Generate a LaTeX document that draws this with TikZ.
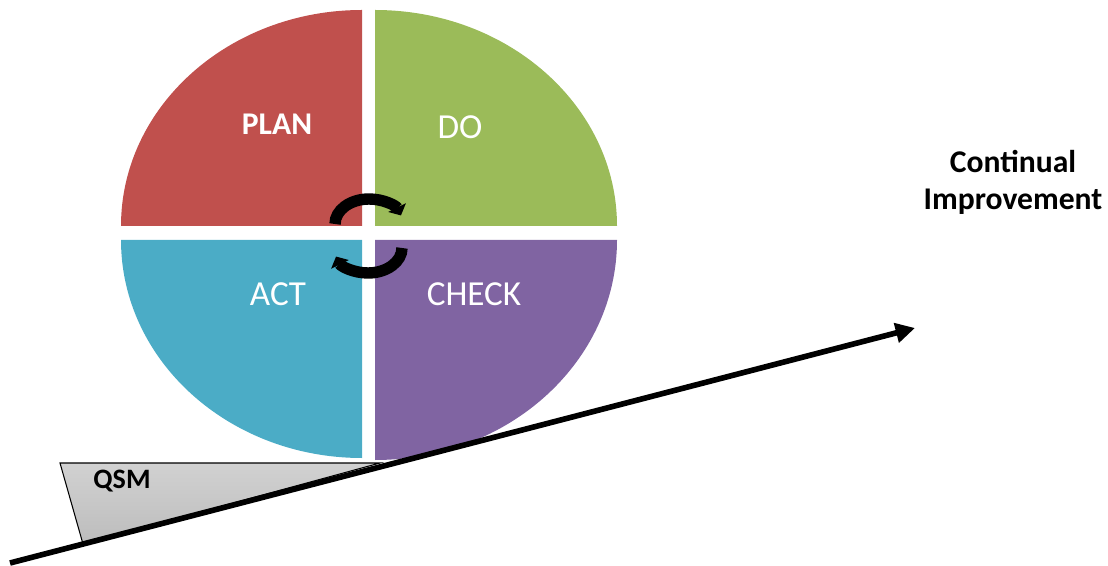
\documentclass[tikz,border=0pt]{standalone}
\usepackage{fontspec}
\setmainfont{Carlito}
\usetikzlibrary{arrows.meta}
\definecolor{planred}{HTML}{C0504D}
\definecolor{dogreen}{HTML}{9BBB59}
\definecolor{actblue}{HTML}{4BACC6}
\definecolor{checkviolet}{HTML}{8064A2}
\begin{document}
\begin{tikzpicture}[x=0.02cm,y=0.02cm,
    lbl/.style={text=white,anchor=base,font=\fontsize{20}{24}\selectfont},
    turn/.style={line width=6.5pt,-{Triangle[length=5pt,width=11pt]}}]
    \useasboundingbox (0,0) rectangle (1108,565);
    \fill[planred] (362,339) -- (121,339) arc[start angle=180,end angle=90,x radius=241,y radius=216] -- cycle;
    \fill[dogreen] (375,339) -- (375,555) arc[start angle=90,end angle=0,x radius=242,y radius=216] -- cycle;
    \fill[actblue] (362,325) -- (121,325) arc[start angle=180,end angle=270,x radius=241,y radius=218] -- cycle;
    \fill[checkviolet] (375,325) -- (617,325) arc[start angle=0,end angle=-90,x radius=242,y radius=220] -- cycle;
    \draw[turn] (335,341) arc[start angle=180,end angle=20,x radius=34,y radius=25];
    \draw[turn] (402,317) arc[start angle=0,end angle=-160,x radius=34,y radius=25];
    \shadedraw[top color=gray!36,bottom color=gray!52,draw=black,line width=0.6pt] (60,102) -- (380,102) -- (83,21) -- cycle;
    \coordinate (base) at (10,2);
    \coordinate (tip) at (915,237);
    \draw[line width=3.2pt,-{Triangle[length=11pt,width=11pt]}] (base) -- (tip);
    \node[lbl,font=\fontsize{18}{22}\selectfont\bfseries] (plan) at (277,430) {PLAN};
    \node[lbl] (do) at (460,426) {DO};
    \node[lbl] (act) at (278,259) {ACT};
    \node[lbl] (check) at (474,259) {CHECK};
    \node[anchor=base,font=\fontsize{16}{19}\selectfont\bfseries] (qsm) at (122,77) {QSM};
    \node[align=center,font=\fontsize{18}{21}\selectfont\bfseries] (ci) at (1013,383) {Continual\\Improvement};
\end{tikzpicture}
\end{document}
